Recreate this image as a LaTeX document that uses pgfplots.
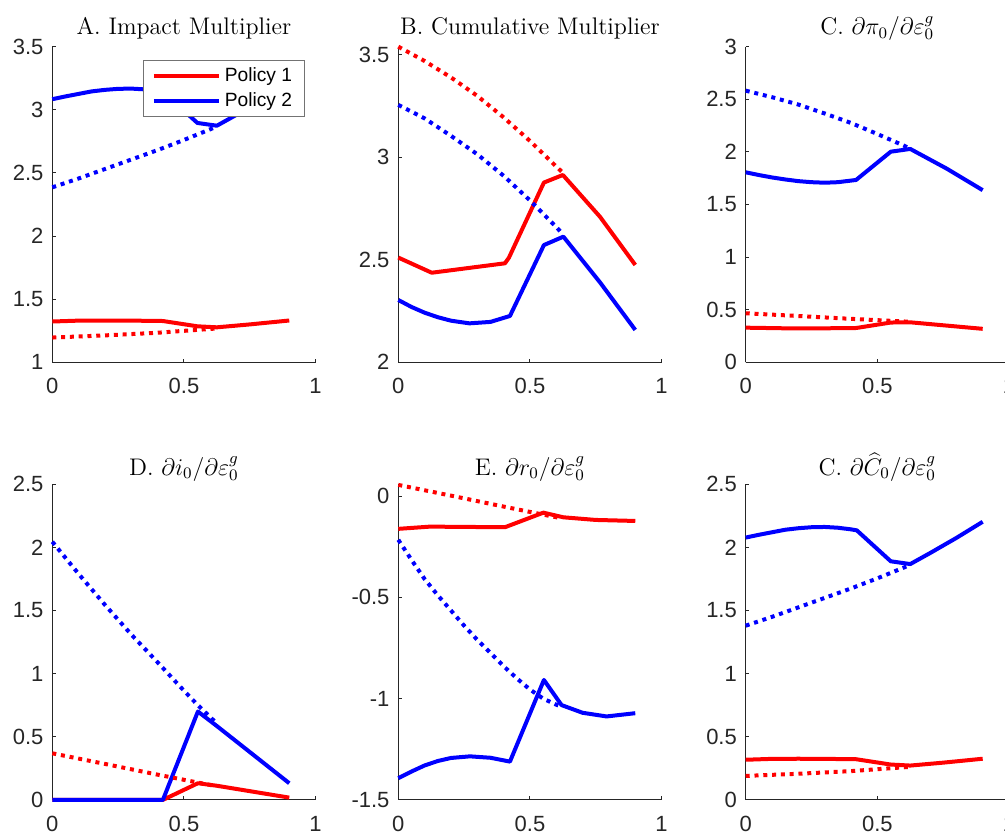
\documentclass[border=0pt]{standalone}
\usepackage{pgfplots}
\pgfplotsset{compat=1.18}
\usepackage{fontspec}
\newfontfamily\sansfont{Liberation Sans}
\definecolor{axgray}{rgb}{0.15,0.15,0.15}

\pgfplotsset{
  panel/.style={
    scale only axis, width=131.65pt, height=157.8pt,
    axis lines*=left,
    axis line style={axgray, line width=0.5pt},
    tick align=inside, major tick length=1.7pt,
    tick style={axgray, line width=0.5pt},
    xmin=0, xmax=1, xtick={0,0.5,1}, xticklabels={0,0.5,1},
    ticklabel style={font=\fontsize{11}{13}\sansfont, text=axgray},
    xticklabel style={yshift=-4.6pt},
    yticklabel style={xshift=-0.9pt},
    title style={font=\fontsize{12}{14}\selectfont, anchor=base, at={(0.5,1)}},
    clip=false,
  },
  sol/.style={line width=2pt, line join=round},
  dot/.style={line width=2pt, dash pattern=on 2pt off 2.4pt},
}

\begin{document}
\begin{tikzpicture}

% A. Impact multiplier
\begin{axis}[panel, at={(26.15pt,235.35pt)}, anchor=south west,
    title={A. Impact Multiplier},
    ymin=1, ymax=3.5, ytick={1,1.5,2,2.5,3,3.5}, yticklabels={1,1.5,2,2.5,3,3.5},
    legend style={at={(0.958,0.958)}, anchor=north east, draw=black!55, line width=0.5pt,
        fill=white, font=\fontsize{9.6}{11}\sansfont, inner xsep=4pt, inner ysep=1.5pt,
        row sep=0pt, cells={anchor=west}},
    legend image code/.code={\draw[#1] (0pt,0pt) -- (32.5pt,0pt);}]
\addplot[sol, red] coordinates {(0,1.323)(0.1,1.330)(0.2,1.331)(0.3,1.330)(0.42,1.327)(0.551,1.285)(0.625,1.277)(0.75,1.30)(0.9,1.331)};
\addplot[sol, blue] coordinates {(0,3.084)(0.05,3.106)(0.1,3.126)(0.15,3.146)(0.2,3.158)(0.25,3.166)(0.3,3.168)(0.35,3.162)(0.4,3.149)(0.422,3.141)(0.551,2.896)(0.625,2.874)(0.7,2.961)(0.8,3.081)(0.9,3.21)};
\addplot[dot, red, forget plot] coordinates {(0,1.196)(0.2,1.213)(0.4,1.234)(0.625,1.268)};
\addplot[dot, blue, forget plot] coordinates {(0,2.386)(0.1,2.456)(0.2,2.531)(0.3,2.606)(0.4,2.681)(0.5,2.761)(0.6,2.846)(0.625,2.868)};
\legend{Policy 1, Policy 2}
\end{axis}

% B. Cumulative multiplier
\begin{axis}[panel, at={(199.15pt,235.35pt)}, anchor=south west,
    title={B. Cumulative Multiplier},
    ymin=2, ymax=3.54, ytick={2,2.5,3,3.5}, yticklabels={2,2.5,3,3.5}]
\addplot[sol, red] coordinates {(0,2.511)(0.127,2.437)(0.405,2.483)(0.42,2.51)(0.553,2.877)(0.625,2.914)(0.766,2.71)(0.9,2.475)};
\addplot[sol, blue] coordinates {(0,2.304)(0.05,2.27)(0.1,2.242)(0.15,2.22)(0.2,2.203)(0.27,2.19)(0.35,2.197)(0.424,2.226)(0.553,2.572)(0.627,2.613)(0.766,2.39)(0.9,2.158)};
\addplot[dot, red] coordinates {(0,3.54)(0.1,3.47)(0.2,3.39)(0.3,3.30)(0.4,3.195)(0.5,3.08)(0.6,2.955)(0.625,2.925)};
\addplot[dot, blue] coordinates {(0,3.256)(0.1,3.19)(0.2,3.105)(0.3,3.015)(0.4,2.91)(0.5,2.79)(0.6,2.66)(0.625,2.625)};
\end{axis}

% C. inflation
\begin{axis}[panel, at={(372.85pt,235.35pt)}, anchor=south west,
    title={C. $\partial\pi_0/\partial\varepsilon_0^g$},
    ymin=0, ymax=3, ytick={0,0.5,1,1.5,2,2.5,3}, yticklabels={0,0.5,1,1.5,2,2.5,3}]
\addplot[sol, red] coordinates {(0,0.329)(0.15,0.323)(0.3,0.323)(0.42,0.326)(0.551,0.378)(0.625,0.38)(0.9,0.318)};
\addplot[sol, blue] coordinates {(0,1.806)(0.05,1.78)(0.1,1.757)(0.15,1.738)(0.2,1.722)(0.25,1.712)(0.3,1.707)(0.35,1.712)(0.419,1.733)(0.551,2.002)(0.625,2.028)(0.764,1.84)(0.9,1.636)};
\addplot[dot, red] coordinates {(0,0.466)(0.2,0.44)(0.4,0.413)(0.625,0.385)};
\addplot[dot, blue] coordinates {(0,2.582)(0.1,2.52)(0.2,2.45)(0.3,2.365)(0.4,2.275)(0.5,2.17)(0.6,2.06)(0.625,2.03)};
\end{axis}

% D. nominal rate
\begin{axis}[panel, at={(26.15pt,16.55pt)}, anchor=south west,
    title={D. $\partial i_0/\partial\varepsilon_0^g$}, title style={yshift=-1.5pt},
    ymin=0, ymax=2.5, ytick={0,0.5,1,1.5,2,2.5}, yticklabels={0,0.5,1,1.5,2,2.5}]
\addplot[sol, red] coordinates {(0,0)(0.42,0)(0.553,0.132)(0.625,0.112)(0.9,0.018)};
\addplot[sol, blue] coordinates {(0,0)(0.42,0)(0.553,0.70)(0.625,0.585)(0.9,0.132)};
\addplot[dot, red] coordinates {(0,0.369)(0.2,0.285)(0.4,0.20)(0.62,0.11)};
\addplot[dot, blue] coordinates {(0,2.045)(0.1,1.79)(0.2,1.545)(0.3,1.31)(0.4,1.09)(0.5,0.865)(0.553,0.75)(0.6,0.655)(0.62,0.615)};
\end{axis}

% E. real rate
\begin{axis}[panel, at={(199.15pt,16.55pt)}, anchor=south west,
    title={E. $\partial r_0/\partial\varepsilon_0^g$}, title style={yshift=-1.5pt},
    ymin=-1.5, ymax=0.058, ytick={-1.5,-1,-0.5,0}, yticklabels={-1.5,-1,-0.5,0}]
\addplot[sol, red] coordinates {(0,-0.162)(0.12,-0.151)(0.405,-0.154)(0.551,-0.082)(0.627,-0.105)(0.75,-0.118)(0.9,-0.123)};
\addplot[sol, blue] coordinates {(0,-1.393)(0.05,-1.36)(0.1,-1.33)(0.15,-1.308)(0.2,-1.293)(0.272,-1.285)(0.35,-1.292)(0.424,-1.311)(0.553,-0.908)(0.62,-1.032)(0.7,-1.07)(0.791,-1.088)(0.9,-1.072)};
\addplot[dot, red] coordinates {(0,0.055)(0.2,0.002)(0.4,-0.052)(0.62,-0.11)};
\addplot[dot, blue] coordinates {(0,-0.216)(0.05,-0.315)(0.1,-0.41)(0.15,-0.49)(0.2,-0.565)(0.25,-0.64)(0.3,-0.71)(0.35,-0.775)(0.4,-0.84)(0.45,-0.9)(0.5,-0.955)(0.55,-1.0)(0.6,-1.03)(0.62,-1.04)};
\end{axis}

% F. consumption
\begin{axis}[panel, at={(372.85pt,16.55pt)}, anchor=south west,
    title={C. $\partial\widehat{C}_0/\partial\varepsilon_0^g$}, title style={yshift=-1.5pt},
    ymin=0, ymax=2.5, ytick={0,0.5,1,1.5,2,2.5}, yticklabels={0,0.5,1,1.5,2,2.5}]
\addplot[sol, red] coordinates {(0,0.318)(0.1,0.325)(0.2,0.326)(0.3,0.325)(0.42,0.322)(0.551,0.28)(0.625,0.272)(0.75,0.295)(0.9,0.326)};
\addplot[sol, blue] coordinates {(0,2.078)(0.05,2.10)(0.1,2.12)(0.15,2.14)(0.2,2.152)(0.25,2.16)(0.3,2.162)(0.35,2.156)(0.4,2.143)(0.422,2.135)(0.551,1.89)(0.625,1.868)(0.7,1.955)(0.8,2.075)(0.9,2.203)};
\addplot[dot, red] coordinates {(0,0.19)(0.2,0.207)(0.4,0.228)(0.625,0.262)};
\addplot[dot, blue] coordinates {(0,1.38)(0.1,1.45)(0.2,1.525)(0.3,1.60)(0.4,1.675)(0.5,1.755)(0.6,1.84)(0.625,1.862)};
\end{axis}

\pgfresetboundingbox
\useasboundingbox (0,0) rectangle (502.5pt,416.5pt);
\end{tikzpicture}
\end{document}
